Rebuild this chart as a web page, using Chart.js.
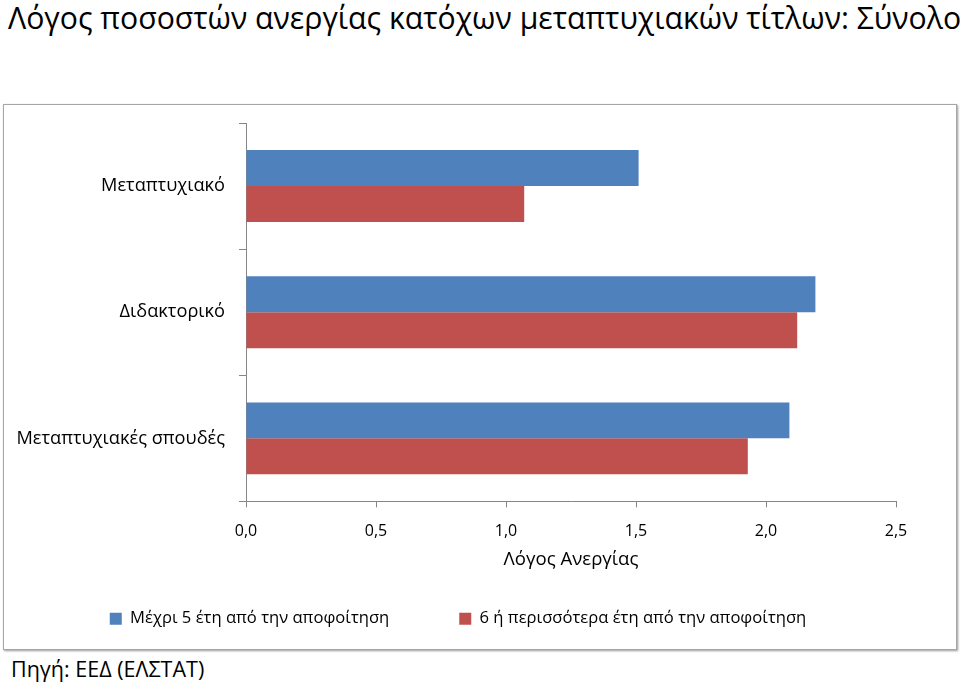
<!DOCTYPE html>
<html><head><meta charset="utf-8">
<script src="https://cdn.jsdelivr.net/npm/chart.js@4"></script>
<style>
html,body{margin:0;padding:0;background:#fff;width:960px;height:685px;overflow:hidden;font-family:"Open Sans",sans-serif;}
#title{position:absolute;left:8px;top:0px;font-size:30.2px;color:#000;white-space:nowrap;line-height:36px;}
#box{position:absolute;left:3px;top:104px;width:952px;height:544px;border:1px solid #a6a6a6;box-shadow:1px 1px 2px #999;}
#src{position:absolute;left:11px;top:654px;font-size:21.5px;color:#000;white-space:nowrap;line-height:30px;}
</style></head>
<body>
<div id="title">Λόγος ποσοστών ανεργίας κατόχων μεταπτυχιακών τίτλων: Σύνολο</div>
<div id="box"><canvas id="c" width="952" height="544"></canvas></div>
<div id="src">Πηγή: ΕΕΔ (ΕΛΣΤΑΤ)</div>
<script>
const categories = ["Μεταπτυχιακό", "Διδακτορικό", "Μεταπτυχιακές σπουδές"];
const seriesNames = ["Μέχρι 5 έτη από την αποφοίτηση", "6 ή περισσότερα έτη από την αποφοίτηση"];
const upTo5Years = [1.51, 2.19, 2.09];
const sixPlusYears = [1.07, 2.12, 1.93];
const xTicks = [0, 0.5, 1.0, 1.5, 2.0, 2.5];
const axisTitle = "Λόγος Ανεργίας";

const font = "Open Sans";
new Chart(document.getElementById('c'), {
  type: 'bar',
  data: {
    labels: categories,
    datasets: [
      {label: seriesNames[0], data: upTo5Years, backgroundColor: '#4F81BD', barPercentage: 1.0, categoryPercentage: 0.57},
      {label: seriesNames[1], data: sixPlusYears, backgroundColor: '#C0504D', barPercentage: 1.0, categoryPercentage: 0.57}
    ]
  },
  options: {
    indexAxis: 'y',
    responsive: false,
    animation: false,
    layout: {padding: {top: 18, right: 44, left: 0, bottom: 12}},
    plugins: {
      legend: {
        position: 'bottom',
        labels: {boxWidth: 12, boxHeight: 12, padding: 70, color: '#000', font: {family: font, size: 16.6}}
      },
      title: {display: false},
      tooltip: {enabled: false}
    },
    scales: {
      y: {
        grid: {display: true, drawOnChartArea: false, offset: true, tickLength: 7, color: '#868686'},
        border: {color: '#868686'},
        ticks: {color: '#000', padding: 14, font: {family: font, size: 18.2}},
        afterFit: s => { s.width = 242; s.paddingTop = 0; s.paddingBottom = 0; }
      },
      spacer: {
        type: 'linear', position: 'right', display: true,
        grid: {display: false}, ticks: {display: false}, border: {display: false},
        afterFit: s => { s.width = 16; s.paddingTop = 0; s.paddingBottom = 0; }
      },
      x: {
        min: 0, max: 2.5,
        afterBuildTicks: s => { s.ticks = xTicks.map(v => ({value: v})); },
        grid: {display: true, drawOnChartArea: false, tickLength: 6, color: '#868686'},
        border: {color: '#868686'},
        ticks: {color: '#000', padding: 14, font: {family: font, size: 16},
          callback: v => Number(v).toFixed(1).replace('.', ',')},
        title: {display: true, text: axisTitle, color: '#000', font: {family: font, size: 18.6}, padding: {top: 2, bottom: -30}},
        afterFit: s => { s.height = 39; }
      }
    }
  }
});
</script>
</body></html>
